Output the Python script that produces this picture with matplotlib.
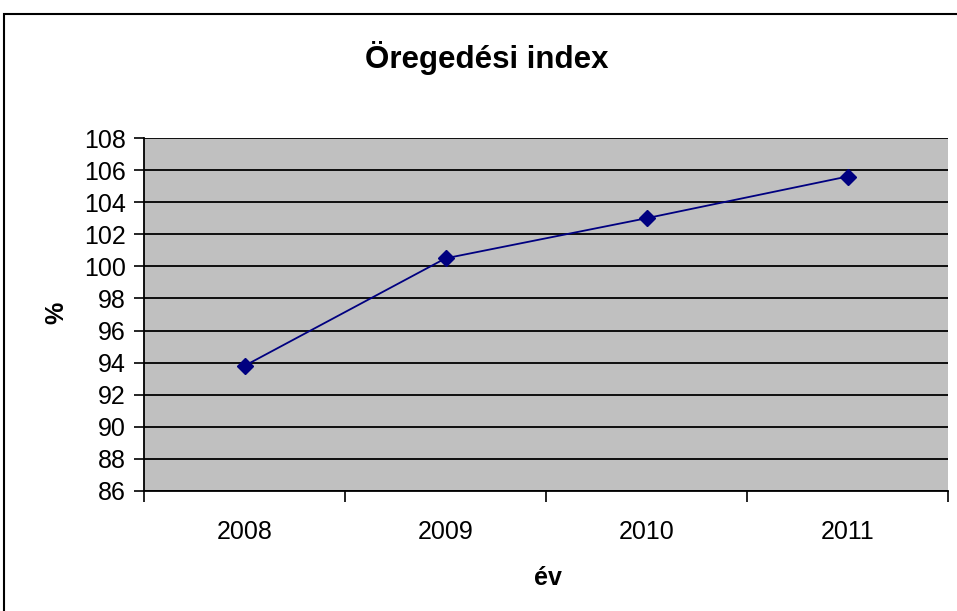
import matplotlib
matplotlib.use("Agg")
import matplotlib.pyplot as plt
from matplotlib.patches import Rectangle
from matplotlib.ticker import FixedLocator

years = ["2008", "2009", "2010", "2011"]
index_pct = [93.8, 100.5, 103.0, 105.6]
y_ticks = list(range(86, 109, 2))

plt.rcParams["font.family"] = ["Liberation Sans", "DejaVu Sans"]

W, H = 957, 611
fig = plt.figure(figsize=(W / 100, H / 100), dpi=100)

# outer chart border (runs off the right and bottom edges)
fig.patches.append(Rectangle((4 / W, -0.1), 1.0, 1.1 - 14 / H, transform=fig.transFigure,
                             fill=False, edgecolor="black", linewidth=1.5))

ax = fig.add_axes([144 / W, 1 - 491 / H, (948 - 144) / W, (491 - 138) / H])
ax.set_facecolor("#C0C0C0")

x = list(range(len(years)))
ax.plot(x, index_pct, color="#000080", lw=1.3, marker="D", markersize=8,
        markerfacecolor="#000080", markeredgecolor="#000080", zorder=3)

ax.set_xlim(-0.5, len(years) - 0.5)
ax.set_ylim(86, 108)
ax.set_yticks(y_ticks)
ax.yaxis.grid(True, color="black", lw=1.3)
ax.set_axisbelow(True)

ax.set_xticks(x)
ax.set_xticklabels(years)
ax.xaxis.set_minor_locator(FixedLocator([i - 0.5 for i in range(len(years) + 1)]))
ax.tick_params(axis="x", which="major", length=0, pad=21, labelsize=18)
ax.tick_params(axis="x", which="minor", length=8, width=1.2, direction="out")
ax.tick_params(axis="y", length=7, width=1.2, direction="out", labelsize=18, pad=6)

for s in ("top", "right"):
    ax.spines[s].set_visible(False)
ax.spines["left"].set_linewidth(1.3)
ax.spines["bottom"].set_linewidth(1.3)

fig.text(487 / W, 1 - 58 / H, "Öregedési index", ha="center", va="center",
         fontsize=22.5, fontweight="bold")
fig.text(56 / W, 1 - 313 / H, "%", ha="center", va="center", rotation=90,
         fontsize=18, fontweight="bold")
fig.text(548 / W, 1 - 578 / H, "év", ha="center", va="center",
         fontsize=18, fontweight="bold")

fig.savefig("out.png", dpi=100)
